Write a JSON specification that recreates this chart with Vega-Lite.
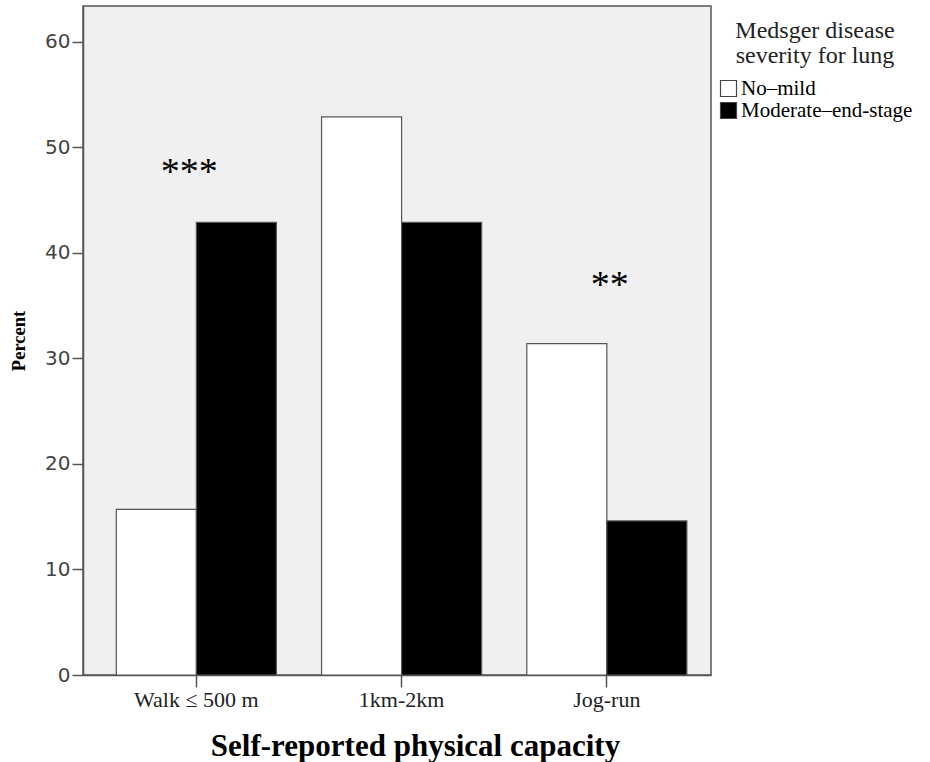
{
  "$schema": "https://vega.github.io/schema/vega-lite/v6.json",
  "width": 628,
  "height": 669,
  "autosize": "none",
  "padding": {"left": 83, "top": 6, "right": 219, "bottom": 87},
  "background": "white",
  "view": {"fill": "#F0F0F0", "stroke": "#555555", "strokeWidth": 1.5},
  "config": {
    "axis": {"grid": false, "domainColor": "#555555", "tickColor": "#555555", "domainWidth": 1.5, "tickWidth": 1.5},
    "legend": {"titleFont": "Liberation Serif", "labelFont": "Liberation Serif"}
  },
  "layer": [
    {
      "data": {"values": [
        {"capacity": "Walk ≤ 500 m", "severity": "No–mild", "percent": 15.7},
        {"capacity": "Walk ≤ 500 m", "severity": "Moderate–end-stage", "percent": 42.9},
        {"capacity": "1km-2km", "severity": "No–mild", "percent": 52.9},
        {"capacity": "1km-2km", "severity": "Moderate–end-stage", "percent": 42.9},
        {"capacity": "Jog-run", "severity": "No–mild", "percent": 31.4},
        {"capacity": "Jog-run", "severity": "Moderate–end-stage", "percent": 14.6}
      ]},
      "mark": {"type": "bar", "stroke": "#555555", "strokeWidth": 1.2},
      "encoding": {
        "x": {
          "field": "capacity", "type": "nominal", "sort": ["Walk ≤ 500 m", "1km-2km", "Jog-run"],
          "scale": {"paddingInner": 0.22, "paddingOuter": 0.14, "align": 0.58},
          "axis": {
            "title": "Self-reported physical capacity", "labelAngle": 0,
            "labelFont": "Liberation Serif", "labelFontSize": 22, "labelColor": "#222222",
            "titleFont": "Liberation Serif", "titleFontSize": 31, "titleFontWeight": "bold", "titleColor": "#000000",
            "titleX": 332, "titleAlign": "center",
            "tickSize": 12, "labelPadding": 2, "titlePadding": 21
          }
        },
        "xOffset": {"field": "severity", "type": "nominal", "sort": ["No–mild", "Moderate–end-stage"], "scale": {"paddingInner": 0, "paddingOuter": 0}},
        "y": {
          "field": "percent", "type": "quantitative",
          "scale": {"domain": [0, 63.4], "nice": false},
          "axis": {
            "title": "Percent", "values": [0, 10, 20, 30, 40, 50, 60],
            "labelFont": "DejaVu Sans", "labelFontSize": 20, "labelColor": "#444444",
            "titleFont": "Liberation Serif", "titleFontSize": 18.5, "titleFontWeight": "bold", "titleColor": "#000000",
            "tickSize": 11, "labelPadding": 2, "titlePadding": 16
          }
        },
        "fill": {
          "field": "severity", "type": "nominal", "sort": ["No–mild", "Moderate–end-stage"],
          "scale": {"domain": ["No–mild", "Moderate–end-stage"], "range": ["#FFFFFF", "#000000"]},
          "legend": {
            "title": ["Medsger disease", "severity for lung"],
            "orient": "none", "legendX": 635, "legendY": 13,
            "titleFontSize": 24, "titleFontWeight": "normal", "titleColor": "#222222", "titleAnchor": "middle", "titleLineHeight": 25, "titlePadding": 10,
            "labelFontSize": 21, "labelColor": "#000000", "labelOffset": 2, "labelLimit": 400,
            "symbolType": "square", "symbolSize": 256, "symbolStrokeColor": "#444444", "symbolStrokeWidth": 1.2, "rowPadding": 0
          }
        }
      }
    },
    {
      "data": {"values": [
        {"capacity": "Walk ≤ 500 m", "label": "***", "ypos": 47.6}
      ]},
      "mark": {"type": "text", "font": "Liberation Serif", "fontSize": 38, "baseline": "middle", "align": "center", "color": "#000000", "dx": -7},
      "encoding": {
        "x": {"field": "capacity", "type": "nominal", "sort": ["Walk ≤ 500 m", "1km-2km", "Jog-run"]},
        "y": {"field": "ypos", "type": "quantitative"},
        "text": {"field": "label"}
      }
    },
    {
      "data": {"values": [
        {"capacity": "Jog-run", "label": "**", "ypos": 36.9}
      ]},
      "mark": {"type": "text", "font": "Liberation Serif", "fontSize": 38, "baseline": "middle", "align": "center", "color": "#000000", "dx": 3},
      "encoding": {
        "x": {"field": "capacity", "type": "nominal", "sort": ["Walk ≤ 500 m", "1km-2km", "Jog-run"]},
        "y": {"field": "ypos", "type": "quantitative"},
        "text": {"field": "label"}
      }
    }
  ]
}
